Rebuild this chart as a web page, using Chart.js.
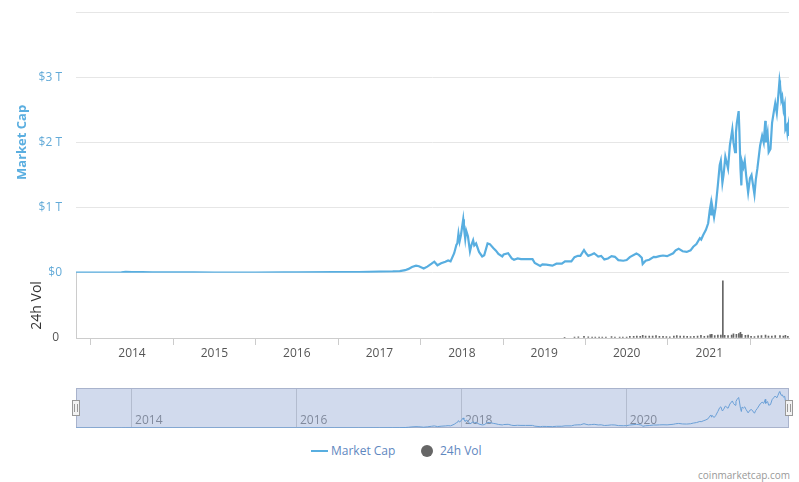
<!DOCTYPE html>
<html>
<head>
<meta charset="utf-8">
<script src="https://cdn.jsdelivr.net/npm/chart.js@4.4.1/dist/chart.umd.min.js"></script>
<style>
  body { margin: 0; background: #fff; width: 799px; height: 482px; position: relative; overflow: hidden; font-family: "Open Sans", sans-serif; }
  #main { position: absolute; left: 0; top: 0; }
  #nav { position: absolute; left: 0; top: 385px; }
  .leg { position: absolute; top: 443px; font-size: 12px; color: #5f88bf; line-height: 16px; }
  .leg-line { position: absolute; top: 450px; left: 311px; width: 17px; height: 2px; background: #58aee0; }
  .leg-dot { position: absolute; top: 445px; left: 421px; width: 12px; height: 12px; border-radius: 6px; background: #666; }
  #credit { position: absolute; right: 9px; top: 468px; font-size: 10px; color: #999; }
</style>
</head>
<body>
<canvas id="main" width="799" height="365"></canvas>
<canvas id="nav" width="799" height="50"></canvas>
<div class="leg-line"></div><div class="leg" style="left:331px">Market Cap</div>
<div class="leg-dot"></div><div class="leg" style="left:440px">24h Vol</div>
<div id="credit">coinmarketcap.com</div>
<script>
// total market cap, billions USD
const capDates = [
  '2013-04-28','2013-07-01','2013-10-01','2013-11-15','2013-12-04','2014-01-01','2014-02-15','2014-04-01',
  '2014-07-01','2014-10-01','2015-01-01','2015-04-01','2015-07-01','2015-11-05','2016-01-01','2016-06-15',
  '2016-10-01','2017-01-01','2017-03-01','2017-04-01','2017-04-25','2017-05-10','2017-05-25','2017-06-12',
  '2017-06-25','2017-07-16','2017-08-01','2017-08-20','2017-09-01','2017-09-15','2017-10-01','2017-10-20',
  '2017-11-01','2017-11-12','2017-11-28','2017-12-08','2017-12-12','2017-12-17','2017-12-22','2017-12-28',
  '2018-01-07','2018-01-10','2018-01-16','2018-01-20','2018-01-28','2018-02-06','2018-02-12','2018-02-20',
  '2018-02-25','2018-03-05','2018-03-18','2018-04-01','2018-04-10','2018-04-25','2018-05-05','2018-05-20',
  '2018-06-01','2018-06-12','2018-06-29','2018-07-05','2018-07-25','2018-08-10','2018-08-20','2018-09-05',
  '2018-09-20','2018-10-10','2018-11-10','2018-11-20','2018-12-14','2018-12-24','2019-01-10','2019-02-06',
  '2019-02-24','2019-03-20','2019-04-03','2019-05-01','2019-05-15','2019-05-30','2019-06-10','2019-06-26',
  '2019-07-05','2019-07-15','2019-07-30','2019-08-10','2019-08-28','2019-09-10','2019-09-24','2019-10-10',
  '2019-10-26','2019-11-10','2019-11-25','2019-12-17','2020-01-01','2020-01-15','2020-02-13','2020-02-24',
  '2020-03-08','2020-03-12','2020-03-25','2020-04-10','2020-04-30','2020-05-10','2020-05-25','2020-06-10',
  '2020-06-28','2020-07-25','2020-08-05','2020-08-18','2020-09-05','2020-09-23','2020-10-10','2020-10-22',
  '2020-11-05','2020-11-20','2020-11-26','2020-12-05','2020-12-17','2020-12-27','2021-01-03','2021-01-08',
  '2021-01-11','2021-01-14','2021-01-22','2021-01-29','2021-02-08','2021-02-16','2021-02-21','2021-02-28',
  '2021-03-05','2021-03-13','2021-03-25','2021-04-02','2021-04-13','2021-04-18','2021-04-25','2021-04-29',
  '2021-05-03','2021-05-11','2021-05-14','2021-05-19','2021-05-23','2021-05-26','2021-06-01','2021-06-07',
  '2021-06-13','2021-06-22','2021-06-30','2021-07-07','2021-07-20','2021-07-26','2021-08-02','2021-08-14',
  '2021-08-23','2021-08-30','2021-09-06','2021-09-08','2021-09-16','2021-09-21','2021-09-29','2021-10-06',
  '2021-10-15','2021-10-20','2021-10-27','2021-11-01','2021-11-08','2021-11-10','2021-11-16','2021-11-20',
  '2021-11-26','2021-12-01','2021-12-04','2021-12-10','2021-12-13','2021-12-17','2021-12-20'
];
const capValues = [
  1.6, 1.3, 2.0, 6, 15, 10, 9, 6,
  7.5, 5, 4.5, 3.7, 4.5, 6.5, 7, 12,
  11, 17.7, 22, 27, 40, 60, 90, 110,
  100, 65, 95, 140, 170, 115, 145, 170,
  190, 175, 300, 430, 450, 600, 480, 580,
  820, 700, 520, 650, 560, 330, 420, 500,
  420, 450, 320, 250, 270, 450, 440, 380,
  340, 290, 250, 280, 300, 220, 200, 220,
  210, 210, 210, 150, 105, 130, 125, 110,
  140, 140, 175, 175, 240, 260, 260, 350,
  300, 260, 280, 300, 250, 260, 205, 220,
  255, 245, 195, 185, 195, 240, 295, 275,
  230, 135, 185, 200, 245, 240, 255, 265,
  255, 300, 345, 370, 330, 320, 345, 400,
  440, 530, 510, 580, 660, 760, 960, 1060,
  880, 1020, 850, 1000, 1350, 1650, 1720, 1380,
  1500, 1780, 1600, 1950, 2200, 2000, 1850, 2150,
  2300, 2480, 2200, 1600, 1340, 1700, 1620, 1720,
  1500, 1230, 1450, 1500, 1200, 1430, 1600, 1950,
  2100, 2000, 2330, 2000, 2150, 1850, 1900, 2300,
  2500, 2600, 2450, 2650, 2950, 2900, 2650, 2700,
  2500, 2580, 2200, 2250, 2150, 2250, 2100
];
// 24h volume, billions USD (earlier years are too small to show)
const volDates = [
  '2019-04-01','2019-05-15','2019-06-01','2019-06-26','2019-07-15','2019-08-01','2019-08-15','2019-09-01',
  '2019-09-15','2019-10-01','2019-10-26','2019-11-10','2019-12-01','2019-12-15','2020-01-01','2020-01-15',
  '2020-02-01','2020-02-15','2020-03-01','2020-03-12','2020-03-25','2020-04-10','2020-04-25','2020-05-10',
  '2020-05-25','2020-06-10','2020-06-25','2020-07-10','2020-07-28','2020-08-10','2020-08-25','2020-09-10',
  '2020-09-25','2020-10-10','2020-10-25','2020-11-10','2020-11-25','2020-12-10','2020-12-25','2021-01-05',
  '2021-01-12','2021-01-25','2021-02-08','2021-02-21','2021-03-02','2021-03-10','2021-03-25','2021-04-10',
  '2021-04-18','2021-05-01','2021-05-12','2021-05-19','2021-05-25','2021-06-10','2021-06-22','2021-07-05',
  '2021-07-20','2021-08-05','2021-08-20','2021-09-07','2021-09-20','2021-10-05','2021-10-20','2021-11-10',
  '2021-11-25','2021-12-04','2021-12-15'
];
const volValues = [
  45, 65, 75, 110, 80, 65, 60, 55,
  60, 55, 90, 70, 60, 55, 60, 110,
  115, 130, 120, 180, 140, 130, 140, 170,
  120, 110, 90, 80, 140, 160, 130, 130,
  110, 90, 120, 130, 190, 120, 150, 230,
  250, 170, 210, 200, 3950, 180, 170, 200,
  280, 250, 300, 390, 260, 180, 200, 110,
  100, 150, 160, 200, 140, 130, 170, 160,
  130, 180, 110
];
const yearLabels = [2014, 2015, 2016, 2017, 2018, 2019, 2020, 2021];
const navYearLabels = [2014, 2016, 2018, 2020];
const capTicks = [0, 1000, 2000, 3000, 4000];

const toTime = d => Date.parse(d + 'T00:00:00Z');
const capPoints = capDates.map((d, i) => ({ x: toTime(d), y: capValues[i] }));
const volPoints = volDates.map((d, i) => ({ x: toTime(d), y: volValues[i] }));
const xMin = toTime(capDates[0]);
const xMax = toTime(capDates[capDates.length - 1]);
const yearText = v => String(new Date(v).getUTCFullYear());
const fixWidth = s => { s.width = 76; s.paddingTop = 0; s.paddingBottom = 0; };

Chart.defaults.font.family = '"Open Sans", sans-serif';

new Chart(document.getElementById('main'), {
  type: 'line',
  data: {
    datasets: [
      { label: 'Market Cap', data: capPoints, yAxisID: 'yCap', borderColor: '#58aee0', borderWidth: 2.2,
        pointRadius: 0, tension: 0 },
      { type: 'bar', label: '24h Vol', data: volPoints, yAxisID: 'yVol', backgroundColor: '#666',
        barThickness: 1, grouped: false }
    ]
  },
  options: {
    responsive: false,
    animation: false,
    layout: { padding: { top: 12, right: 10, left: 0, bottom: 0 } },
    plugins: { legend: { display: false }, tooltip: { enabled: false } },
    scales: {
      x: {
        type: 'linear', min: xMin, max: xMax, offset: false,
        afterBuildTicks: s => { s.ticks = yearLabels.map(y => ({ value: Date.UTC(y, 0, 1) })); },
        ticks: { callback: yearText, color: '#555', font: { size: 12 }, padding: 1, maxRotation: 0, autoSkip: false },
        grid: { drawOnChartArea: false, tickLength: 7, color: '#ccc' },
        border: { color: '#ccc' },
        afterFit: s => { s.height = 27; s.paddingLeft = 0; s.paddingRight = 0; }
      },
      yVol: {
        position: 'left', stack: 'main', stackWeight: 1, min: 0, max: 4500,
        afterBuildTicks: s => { s.ticks = [{ value: 0 }]; },
        ticks: { color: '#555', font: { size: 12 }, padding: 17 },
        grid: { drawOnChartArea: false, drawTicks: false },
        border: { display: true, color: '#ccc' },
        title: { display: true, text: '24h Vol', color: '#333', font: { size: 14 }, padding: { top: 29, bottom: 0 } },
        afterFit: fixWidth
      },
      yCap: {
        position: 'left', stack: 'main', stackWeight: 4, min: 0, max: 4000,
        afterBuildTicks: s => { s.ticks = capTicks.map(v => ({ value: v })); },
        ticks: {
          callback: v => v === 0 ? '$0' : (v < 4000 ? '$' + (v / 1000) + ' T' : ''),
          color: '#62aad8', font: { size: 12 }, padding: 14
        },
        grid: { color: '#e6e6e6', drawTicks: false },
        border: { display: false },
        title: { display: true, text: 'Market Cap', color: '#5aaee0', font: { size: 13, weight: 'bold' }, padding: { top: 14, bottom: 0 } },
        afterFit: fixWidth
      }
    }
  }
});

const navigatorBox = {
  id: 'navigatorBox',
  beforeDatasetsDraw(chart) {
    const { ctx, chartArea: a } = chart;
    ctx.save();
    ctx.fillStyle = 'rgba(102,133,194,0.3)';
    ctx.fillRect(a.left, a.top, a.right - a.left, a.bottom - a.top);
    ctx.strokeStyle = '#a9b3cc';
    ctx.lineWidth = 1;
    ctx.strokeRect(a.left + 0.5, a.top + 0.5, a.right - a.left - 1, a.bottom - a.top - 1);
    ctx.restore();
  },
  afterDraw(chart) {
    const { ctx, chartArea: a } = chart;
    const cy = (a.top + a.bottom) / 2;
    ctx.save();
    [a.left, a.right].forEach(x => {
      ctx.fillStyle = '#f2f2f2';
      ctx.strokeStyle = '#999';
      ctx.lineWidth = 1;
      ctx.fillRect(x - 4, cy - 8, 8, 16);
      ctx.strokeRect(x - 3.5, cy - 7.5, 7, 15);
      ctx.beginPath();
      ctx.moveTo(x - 1.5, cy - 4); ctx.lineTo(x - 1.5, cy + 4);
      ctx.moveTo(x + 1.5, cy - 4); ctx.lineTo(x + 1.5, cy + 4);
      ctx.stroke();
    });
    ctx.restore();
  }
};

new Chart(document.getElementById('nav'), {
  type: 'line',
  data: { datasets: [{ label: 'Market Cap', data: capPoints, borderColor: '#6a9fd6', borderWidth: 1, pointRadius: 0, tension: 0 }] },
  options: {
    responsive: false,
    animation: false,
    layout: { padding: { top: 3, right: 10, left: 76, bottom: 0 } },
    plugins: { legend: { display: false }, tooltip: { enabled: false } },
    scales: {
      x: {
        type: 'linear', min: xMin, max: xMax, offset: false,
        afterBuildTicks: s => { s.ticks = navYearLabels.map(y => ({ value: Date.UTC(y, 0, 1) })); },
        ticks: { callback: v => ' ' + yearText(v), color: '#8c8c8c', font: { size: 12 }, align: 'start', mirror: true, padding: 0, maxRotation: 0, autoSkip: false },
        grid: { color: 'rgba(110,110,110,0.3)', drawTicks: false },
        border: { display: false },
        afterFit: s => { s.height = 7; }
      },
      y: { display: false, min: 0, max: 3250 }
    }
  },
  plugins: [navigatorBox]
});
</script>
</body>
</html>
